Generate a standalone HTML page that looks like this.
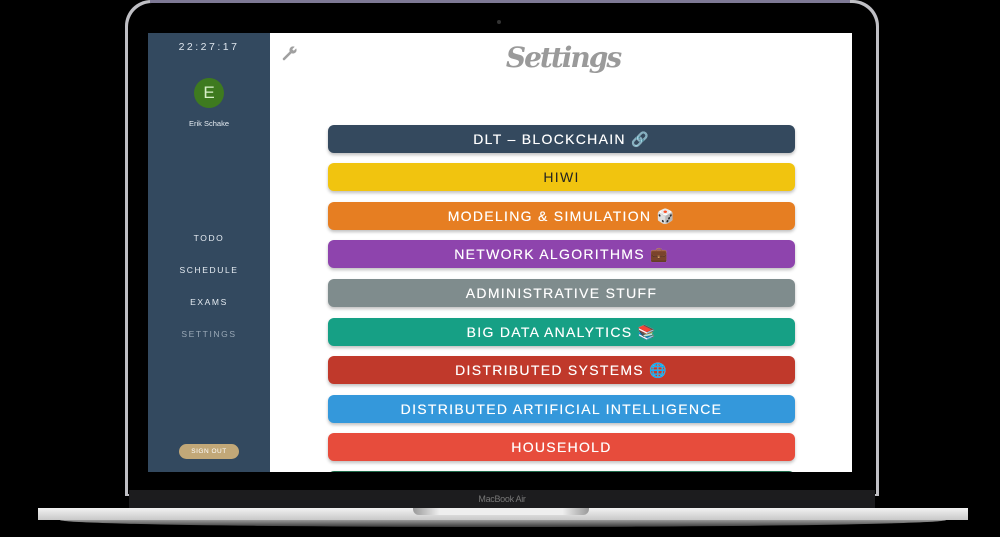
<!DOCTYPE html>
<html><head><meta charset="utf-8"><style>
*{margin:0;padding:0;box-sizing:border-box}
body{width:1000px;height:537px;background:#000;position:relative;overflow:hidden;font-family:"Liberation Sans",sans-serif}
.abs{position:absolute}
.lid{left:125px;top:0;width:754px;height:496px;background:#bfbfc4;border-radius:26px 26px 0 0}
.lidtop{left:150px;top:0;width:700px;height:3px;background:#7d7894}
.bezel{left:128px;top:3px;width:748px;height:491px;background:#000;border-radius:24px 24px 0 0}
.screen{left:148px;top:33px;width:704px;height:439px;background:#fff;overflow:hidden}
.side{left:0;top:0;width:122px;height:439px;background:#33495f}
.chin{left:129px;top:490px;width:746px;height:18px;background:#1c1c1e;color:#777;font-size:9px;text-align:center;line-height:18px;letter-spacing:-.3px}
.base{left:38px;top:508px;width:930px;height:12px;background:linear-gradient(#f2f2f2,#c8c8c8)}
.base2{left:60px;top:520px;width:886px;height:7px;background:linear-gradient(#9a9a9a,#3a3a3a);border-radius:0 0 50% 50%/0 0 100% 100%}
.notch{left:413px;top:508px;width:176px;height:7px;background:linear-gradient(90deg,#999,#eee 15%,#eee 85%,#999);border-radius:0 0 6px 6px}
.btn{position:absolute;left:180px;width:467px;height:28px;border-radius:6px;color:#fff;text-align:center;font-size:14px;line-height:29px;letter-spacing:1.3px;font-weight:normal;text-shadow:0 0 .4px #fff;box-shadow:0 2px 3px rgba(0,0,0,.25)}
.nav{position:absolute;left:0;width:122px;text-align:center;color:#e6ecf2;font-size:8.5px;letter-spacing:1.6px}
</style></head><body>
<div class="abs lid"></div>
<div class="abs lidtop"></div>
<div class="abs bezel"></div>
<div class="abs" style="left:497px;top:20px;width:4px;height:4px;border-radius:50%;background:#333"></div>
<div class="abs screen">
  <div class="abs side">
    <div class="nav" style="top:8px;font-size:10.5px;letter-spacing:2.5px;color:#dfe6ee">22:27:17</div>
    <div class="abs" style="left:46px;top:45px;width:30px;height:30px;border-radius:50%;background:#3e7a1f;color:#d8f0c8;font-size:17px;text-align:center;line-height:30px">E</div>
    <div class="nav" style="top:86px;font-size:7.5px;letter-spacing:0">Erik Schake</div>
    <div class="nav" style="top:200px">TODO</div>
    <div class="nav" style="top:232px">SCHEDULE</div>
    <div class="nav" style="top:264px">EXAMS</div>
    <div class="nav" style="top:296px;color:#9aa8b6">SETTINGS</div>
    <div class="abs" style="left:31px;top:411px;width:60px;height:15px;border-radius:8px;background:#c2a878;color:#fff;font-size:6.5px;text-align:center;line-height:15px;letter-spacing:.5px">SIGN OUT</div>
  </div>
  <svg class="abs" style="left:134px;top:12px" width="16" height="16" viewBox="0 0 16 16"><path d="M2 14 L9 7" stroke="#a0a0a0" stroke-width="2.6" stroke-linecap="round"/><circle cx="11" cy="5" r="3.6" fill="#a0a0a0"/><path d="M11 5 L15 1" stroke="#fff" stroke-width="2.2"/></svg>
  <div class="abs" style="left:320px;top:8px;width:190px;text-align:center;color:#9a9a9a;font-size:28px;font-style:italic;font-weight:bold;font-family:'DejaVu Serif',serif;letter-spacing:-2px">Settings</div>
  <div class="btn" style="top:92px;background:#34495e">DLT – BLOCKCHAIN 🔗</div>
  <div class="btn" style="top:130px;background:#f1c40f;color:#222;text-shadow:none">HIWI</div>
  <div class="btn" style="top:169px;background:#e67e22">MODELING &amp; SIMULATION 🎲</div>
  <div class="btn" style="top:207px;background:#8e44ad">NETWORK ALGORITHMS 💼</div>
  <div class="btn" style="top:246px;background:#7f8c8d">ADMINISTRATIVE STUFF</div>
  <div class="btn" style="top:285px;background:#16a085">BIG DATA ANALYTICS 📚</div>
  <div class="btn" style="top:323px;background:#c0392b">DISTRIBUTED SYSTEMS 🌐</div>
  <div class="btn" style="top:362px;background:#3498db">DISTRIBUTED ARTIFICIAL INTELLIGENCE</div>
  <div class="btn" style="top:400px;background:#e74c3c">HOUSEHOLD</div>
  <div class="btn" style="top:438px;background:#1e6b4a"></div>
</div>
<div class="abs chin">MacBook Air</div>
<div class="abs base"></div>
<div class="abs base2"></div>
<div class="abs notch"></div>
</body></html>
